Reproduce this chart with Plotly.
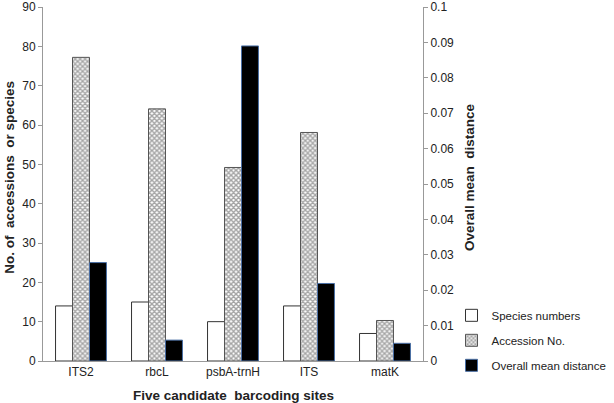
import plotly.graph_objects as go

sites = ["ITS2", "rbcL", "psbA-trnH", "ITS", "matK"]
species_numbers = [14, 15, 10, 14, 7]
accession_no = [77.2, 64.1, 49.2, 58.1, 10.3]
overall_mean_distance = [0.0278, 0.0059, 0.089, 0.0219, 0.0050]

font = "Liberation Sans, Arial, sans-serif"

fig = go.Figure()
fig.add_trace(go.Bar(
    x=sites, y=species_numbers, name="Species numbers",
    marker=dict(color="white", line=dict(color="#333333", width=1)),
    offsetgroup="1", legendgroup="a", yaxis="y",
))
fig.add_trace(go.Bar(
    x=sites, y=accession_no, name="Accession No.",
    marker=dict(color="white", line=dict(color="#555555", width=1),
                pattern=dict(shape="x", size=3.5, solidity=0.65,
                             fgcolor="#4a4a4a", bgcolor="white")),
    offsetgroup="2", legendgroup="b", yaxis="y",
))
fig.add_trace(go.Bar(
    x=sites, y=overall_mean_distance, name="Overall mean distance",
    marker=dict(color="black", line=dict(color="#4a6fa5", width=1)),
    offsetgroup="3", legendgroup="c", yaxis="y2",
))

axis_common = dict(showline=True, linecolor="#999999", linewidth=1,
                   showgrid=False, zeroline=False, automargin=False,
                   ticklabeloverflow="allow", tickfont=dict(size=12))

fig.update_layout(
    width=614, height=403,
    margin=dict(l=43, r=191, t=7, b=42, autoexpand=False),
    paper_bgcolor="white", plot_bgcolor="white",
    barmode="group", bargap=0.33, bargroupgap=0,
    font=dict(family=font, size=12, color="#222222"),
    showlegend=True,
    legend=dict(x=1.075, y=0.17, xanchor="left", yanchor="top",
                font=dict(size=11.5, color="#222222"),
                tracegroupgap=6, itemwidth=30,
                bgcolor="rgba(0,0,0,0)"),
    xaxis=dict(ticks="", **axis_common),
    yaxis=dict(range=[0, 90], dtick=10, ticks="outside", ticklen=4,
               tickcolor="#999999", **axis_common),
    yaxis2=dict(range=[0, 0.1], dtick=0.01, overlaying="y", side="right",
                ticks="outside", ticklen=4, tickcolor="#999999",
                **axis_common),
    annotations=[
        dict(text="<b>Five candidate  barcoding sites</b>", xref="paper",
             yref="paper", x=0.5, y=-0.098, xanchor="center",
             yanchor="middle", showarrow=False, font=dict(size=13.5)),
        dict(text="<b>No. of  accessions  or species</b>", xref="paper",
             yref="paper", x=-0.087, y=0.52, xanchor="center",
             yanchor="middle", textangle=-90, showarrow=False,
             font=dict(size=13.5)),
        dict(text="<b>Overall mean  distance</b>", xref="paper",
             yref="paper", x=1.124, y=0.52, xanchor="center",
             yanchor="middle", textangle=-90, showarrow=False,
             font=dict(size=13.5)),
    ],
)

fig.write_html("out.html",
               config={"displayModeBar": False},
               post_script="document.body.style.margin='0';"
                           "document.body.style.overflow='hidden';")
